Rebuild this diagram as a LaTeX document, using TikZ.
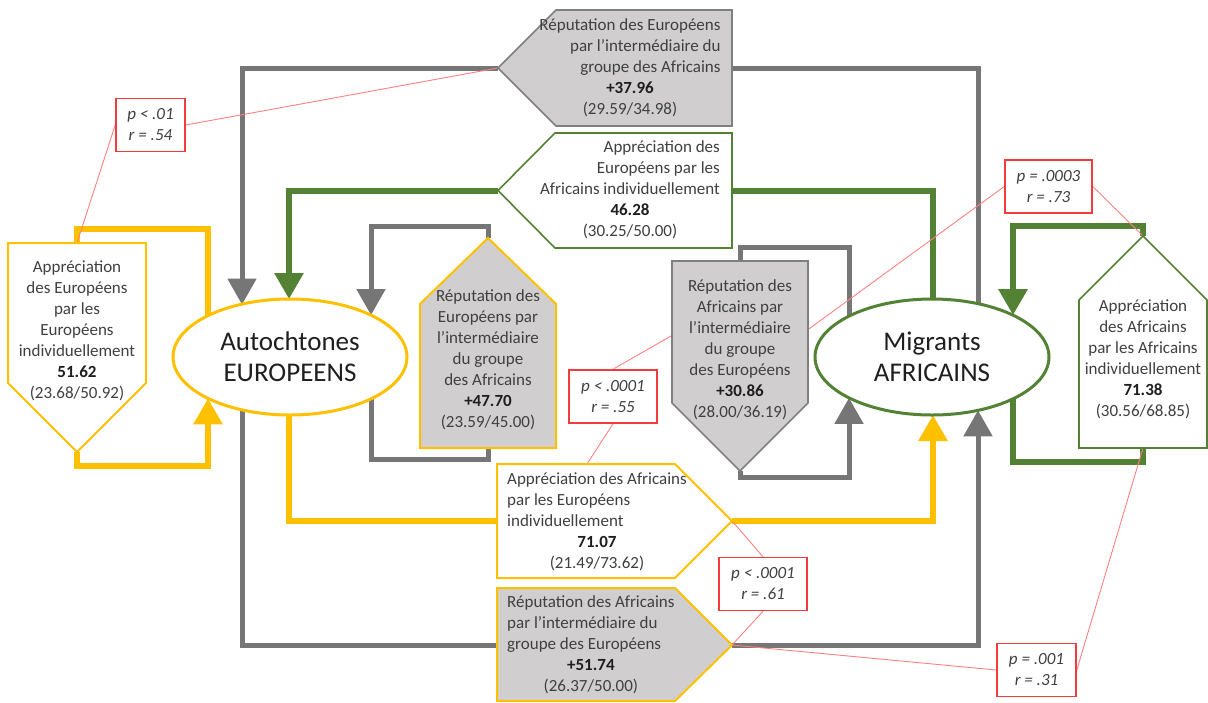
\documentclass[tikz,border=0pt]{standalone}
\usepackage{fontspec}
\setmainfont{Carlito}
\usetikzlibrary{arrows.meta,shapes.geometric}
\definecolor{cY}{HTML}{FFC000}
\definecolor{cG}{HTML}{548235}
\definecolor{cL}{HTML}{767676}
\definecolor{cF}{HTML}{D0CECE}
\definecolor{cB}{HTML}{7F7F7F}
\definecolor{cR}{HTML}{F03C3C}
\definecolor{cRl}{HTML}{FF8080}
\definecolor{cT}{HTML}{404040}
\definecolor{cN}{HTML}{1E1E1E}
\newcommand{\midcell}[1]{\multicolumn{1}{@{}c@{}}{#1}}
\newcommand{\boldval}[1]{\textcolor{cN}{\textbf{#1}}}
\begin{document}
\begin{tikzpicture}[x=1pt,y=-1pt,
  arr/.style={-{Triangle[width=28pt,length=26pt]}},
  grayline/.style={draw=cL,line width=5pt},
  yline/.style={draw=cY,line width=6pt},
  gline/.style={draw=cG,line width=6pt},
  redline/.style={draw=cRl,line width=0.9pt},
  statbox/.style={draw=cR,line width=1.6pt,fill=white,minimum height=53pt,inner sep=2pt,align=center,text=cT,font=\fontsize{17pt}{21pt}\selectfont\itshape},
  txt/.style={text=cT,font=\fontsize{17pt}{21pt}\selectfont,inner sep=0pt},
  grp/.style={ellipse,fill=white,line width=3pt,minimum width=234pt,minimum height=116pt,inner sep=0pt,align=center,text=black!88,font=\fontsize{27pt}{31pt}\selectfont},
  boxY/.style={draw=cY,line width=2pt,fill=white,line join=miter},
  boxYg/.style={draw=cY,line width=2pt,fill=cF,line join=miter},
  boxG/.style={draw=cG,line width=1.6pt,fill=white,line join=miter},
  boxGg/.style={draw=cB,line width=1.6pt,fill=cF,line join=miter}
]
\useasboundingbox (0,0) rectangle (1208,702);

% points on the ellipse borders
\coordinate (euT1) at (242,304.6);
\coordinate (euT2) at (289,299);
\coordinate (euT3) at (208,315.6);
\coordinate (euT4) at (371,315.1);
\coordinate (euB1) at (242,409.4);
\coordinate (euB2) at (289,415);
\coordinate (euB3) at (208,398.4);
\coordinate (euB4) at (371,398.9);
\coordinate (afT1) at (933,299);
\coordinate (afB1) at (933,415);
\coordinate (afT2) at (978,303.7);
\coordinate (afB2) at (978,410.3);
\coordinate (afT3) at (849,316.1);
\coordinate (afB3) at (849,397.9);
\coordinate (afT4) at (1013,315.1);
\coordinate (afB4) at (1013,398.9);

% points on the boxes
\coordinate (tbA) at (498,68);
\coordinate (tbR) at (732,68);
\coordinate (gbA) at (498,190.5);
\coordinate (gbR) at (732,190.5);
\coordinate (lbT) at (77,243);
\coordinate (lbA) at (77,452);
\coordinate (lgA) at (488,238);
\coordinate (lgB) at (488,448);
\coordinate (rgT) at (740,261);
\coordinate (rgA) at (740,471);
\coordinate (rgrA) at (1143,236);
\coordinate (rgrB) at (1143,448);
\coordinate (ybL) at (497,521);
\coordinate (ybA) at (732,521);
\coordinate (ybT) at (587,464);
\coordinate (bbL) at (497,645);
\coordinate (bbA) at (732,645);

% corners of the loops
\coordinate (lyc1) at (77,229);
\coordinate (lyc2) at (77,466);
\coordinate (lgc1) at (488,226);
\coordinate (lgc2) at (488,459);
\coordinate (rgc1) at (740,247);
\coordinate (rgc2) at (740,477);
\coordinate (grc1) at (1143,226);
\coordinate (grc2) at (1143,462);

% hidden ends of red lines (behind the grey box)
\coordinate (h1) at (780,350);
\coordinate (h2) at (720,308);

% thick connectors
\draw[grayline] (afT2) |- (tbR);
\draw[grayline,arr] (tbA) -| (euT1);
\draw[gline] (afT1) |- (gbR);
\draw[gline,arr] (gbA) -| (euT2);
\draw[grayline] (euB1) |- (bbL);
\draw[grayline,arr] (bbA) -| (afB2);
\draw[yline] (euB2) |- (ybL);
\draw[yline,arr] (ybA) -| (afB1);
\draw[yline] (euT3) |- (lyc1) -- (lbT);
\draw[yline,arr] (lbA) -- (lyc2) -| (euB3);
\draw[grayline] (euB4) |- (lgc2) -- (lgB);
\draw[grayline,arr] (lgA) -- (lgc1) -| (euT4);
\draw[grayline] (afT3) |- (rgc1) -- (rgT);
\draw[grayline,arr] (rgA) -- (rgc2) -| (afB3);
\draw[gline] (afB4) |- (grc2) -- (rgrB);
\draw[gline,arr] (rgrA) -- (grc1) -| (afT4);

% stat boxes (placed first for names)
\node[statbox,minimum width=69pt] (s1) at (150.5,125) {p < .01\\r = .54};
\node[statbox,minimum width=87pt] (s2) at (1048.5,186.5) {p = .0003\\r = .73};
\node[statbox,minimum width=88pt] (s3) at (613,396.5) {p < .0001\\r = .55};
\node[statbox,minimum width=88pt] (s4) at (763,584) {p < .0001\\r = .61};
\node[statbox,minimum width=79pt] (s5) at (1036.5,670) {p = .001\\r = .31};

% red lines
\draw[redline] (s1.east) -- (tbA);
\draw[redline] (s1.west) -- (lbT);
\draw[redline] (s2.east) -- (rgrA);
\draw[redline] (s2.west) -- (h1);
\draw[redline] (s3.south) -- (ybT);
\draw[redline] (s3.north) -- (h2);
\draw[redline] (s4.north) -- (ybA);
\draw[redline] (s4.south) -- (bbA);
\draw[redline] (s5.west) -- (bbA);
\draw[redline] (s5.east) -- (rgrB);

% boxes
\draw[boxGg] (498,68) -- (556,10) -- (732,10) -- (732,126) -- (556,126) -- cycle;
\draw[boxG] (498,190.5) -- (555,133) -- (732,133) -- (732,248) -- (555,248) -- cycle;
\draw[boxY] (8,243) -- (146,243) -- (146,383) -- (77,452) -- (8,383) -- cycle;
\draw[boxYg] (420,448) -- (420,304) -- (488,238) -- (556,304) -- (556,448) -- cycle;
\draw[boxGg] (672,261) -- (808,261) -- (808,403) -- (740,471) -- (672,403) -- cycle;
\draw[boxG] (1079,448) -- (1079,300) -- (1143,236) -- (1207,300) -- (1207,448) -- cycle;
\draw[boxY] (497,464) -- (675,464) -- (732,521) -- (675,578) -- (497,578) -- cycle;
\draw[boxYg] (497,588) -- (675,588) -- (732,645) -- (675,701) -- (497,701) -- cycle;

% box texts
\node[txt] (tbt) at (630,68) {\begin{tabular}{@{}r@{}}Réputation des Européens\\par l’intermédiaire du\\groupe des Africains\\\midcell{\boldval{+37.96}}\\\midcell{(29.59/34.98)}\end{tabular}};
\node[txt] (gbt) at (630,190.5) {\begin{tabular}{@{}r@{}}Appréciation des\\Européens par les\\Africains individuellement\\\midcell{\boldval{46.28}}\\\midcell{(30.25/50.00)}\end{tabular}};
\node[txt] (lbt) at (77,331) {\begin{tabular}{@{}c@{}}Appréciation\\des Européens\\par les\\Européens\\individuellement\\\boldval{51.62}\\(23.68/50.92)\end{tabular}};
\node[txt] (lgt) at (488,360) {\begin{tabular}{@{}c@{}}Réputation des\\Européens par\\l’intermédiaire\\du groupe\\des Africains\\\boldval{+47.70}\\(23.59/45.00)\end{tabular}};
\node[txt] (rgt) at (740,350) {\begin{tabular}{@{}c@{}}Réputation des\\Africains par\\l’intermédiaire\\du groupe\\des Européens\\\boldval{+30.86}\\(28.00/36.19)\end{tabular}};
\node[txt] (rgrt) at (1143,360) {\begin{tabular}{@{}c@{}}Appréciation\\des Africains\\par les Africains\\individuellement\\\boldval{71.38}\\(30.56/68.85)\end{tabular}};
\node[txt,anchor=west] (ybt) at (507,522) {\begin{tabular}{@{}l@{}}Appréciation des Africains\\par les Européens\\individuellement\\\midcell{\boldval{71.07}}\\\midcell{(21.49/73.62)}\end{tabular}};
\node[txt,anchor=west] (bbt) at (507,645) {\begin{tabular}{@{}l@{}}Réputation des Africains\\par l’intermédiaire du\\groupe des Européens\\\midcell{\boldval{+51.74}}\\\midcell{(26.37/50.00)}\end{tabular}};

% group ellipses
\node[grp,draw=cY] (eu) at (290,357) {Autochtones\\EUROPEENS};
\node[grp,draw=cG] (af) at (932,357) {Migrants\\AFRICAINS};

% stat boxes redrawn on top
\node[statbox,minimum width=69pt] (s1b) at (s1) {p < .01\\r = .54};
\node[statbox,minimum width=87pt] (s2b) at (s2) {p = .0003\\r = .73};
\node[statbox,minimum width=88pt] (s3b) at (s3) {p < .0001\\r = .55};
\node[statbox,minimum width=88pt] (s4b) at (s4) {p < .0001\\r = .61};
\node[statbox,minimum width=79pt] (s5b) at (s5) {p = .001\\r = .31};
\end{tikzpicture}
\end{document}
